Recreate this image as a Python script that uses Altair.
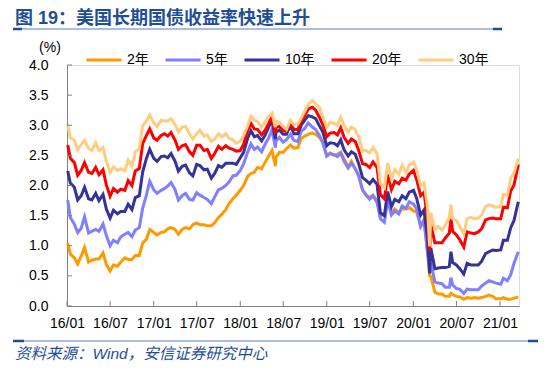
import altair as alt
import pandas as pd

# ---------------- data ----------------
series_names = ["2年", "5年", "10年", "20年", "30年"]
series_colors = ["#FF9900", "#7F7FFF", "#333399", "#FF0000", "#FFCC80"]

HALF = ["01-01", "01-15", "02-01", "02-15", "03-01", "03-15", "04-01", "04-15",
        "05-01", "05-15", "06-01", "06-15", "07-01", "07-15", "08-01", "08-15",
        "09-01", "09-15", "10-01", "10-15", "11-01", "11-15", "12-01", "12-15"]

dates_2016 = ["2016-" + d for d in HALF]
dates_2016[0] = "2016-01-04"
dates_2017 = ["2017-" + d for d in HALF]
dates_2018 = ["2018-" + d for d in HALF]
dates_2018.insert(10, "2018-05-29")
dates_2019 = ["2019-" + d for d in HALF]
dates_2020 = ["2020-01-02", "2020-01-15", "2020-02-01", "2020-02-15", "2020-03-01", "2020-03-10",
              "2020-03-15", "2020-04-01", "2020-04-15", "2020-05-01", "2020-05-15", "2020-06-01",
              "2020-06-08", "2020-06-15", "2020-07-01", "2020-07-15", "2020-08-01", "2020-08-15",
              "2020-09-01", "2020-09-15", "2020-10-01", "2020-10-15", "2020-11-01", "2020-11-15",
              "2020-12-01", "2020-12-15"]
dates_2021 = ["2021-01-04", "2021-01-15", "2021-02-01", "2021-02-15", "2021-03-01", "2021-03-19"]
dates = dates_2016 + dates_2017 + dates_2018 + dates_2019 + dates_2020 + dates_2021

y2 = ([1.05, 0.86, 0.80, 0.70, 0.83, 0.97, 0.73, 0.76, 0.78, 0.78, 0.88, 0.69,
       0.58, 0.68, 0.66, 0.73, 0.80, 0.77, 0.77, 0.84, 0.84, 1.04, 1.11, 1.27]
      + [1.22, 1.18, 1.22, 1.23, 1.28, 1.30, 1.27, 1.19, 1.27, 1.30, 1.28, 1.35,
         1.38, 1.35, 1.35, 1.33, 1.33, 1.38, 1.47, 1.52, 1.60, 1.70, 1.78, 1.84]
      + [1.92, 2.00, 2.15, 2.20, 2.22, 2.30, 2.28, 2.38, 2.49, 2.58, 2.32, 2.47, 2.55,
         2.55, 2.61, 2.67, 2.62, 2.63, 2.78, 2.82, 2.85, 2.87, 2.85, 2.80, 2.72]
      + [2.49, 2.54, 2.50, 2.52, 2.55, 2.44, 2.31, 2.40, 2.28, 2.18, 1.92, 1.85,
         1.80, 1.84, 1.75, 1.51, 1.50, 1.80, 1.56, 1.61, 1.55, 1.61, 1.61, 1.63]
      + [1.58, 1.56, 1.32, 1.43, 0.91, 0.50, 0.49, 0.23, 0.20, 0.20, 0.16, 0.16, 0.21,
         0.19, 0.16, 0.15, 0.11, 0.14, 0.13, 0.14, 0.13, 0.14, 0.16, 0.18, 0.16, 0.12]
      + [0.12, 0.14, 0.11, 0.11, 0.13, 0.15])

y5 = ([1.76, 1.47, 1.36, 1.22, 1.29, 1.48, 1.21, 1.24, 1.27, 1.24, 1.36, 1.17,
       1.00, 1.09, 1.05, 1.15, 1.19, 1.22, 1.15, 1.26, 1.30, 1.62, 1.84, 2.07]
      + [1.93, 1.87, 1.92, 1.95, 1.99, 2.05, 1.93, 1.76, 1.83, 1.87, 1.77, 1.76,
         1.88, 1.84, 1.80, 1.77, 1.70, 1.81, 1.93, 1.95, 2.00, 2.06, 2.16, 2.17]
      + [2.25, 2.36, 2.55, 2.69, 2.60, 2.64, 2.56, 2.68, 2.79, 2.93, 2.63, 2.74, 2.80,
         2.72, 2.76, 2.85, 2.75, 2.73, 2.90, 2.95, 3.04, 2.97, 2.93, 2.83, 2.71]
      + [2.49, 2.53, 2.51, 2.48, 2.54, 2.40, 2.29, 2.37, 2.28, 2.16, 1.93, 1.84,
         1.77, 1.83, 1.72, 1.45, 1.39, 1.75, 1.51, 1.58, 1.53, 1.66, 1.62, 1.73]
      + [1.69, 1.61, 1.32, 1.42, 0.89, 0.61, 0.72, 0.40, 0.38, 0.37, 0.31, 0.31, 0.47,
         0.35, 0.29, 0.28, 0.21, 0.28, 0.27, 0.27, 0.27, 0.33, 0.38, 0.42, 0.40, 0.38]
      + [0.36, 0.46, 0.42, 0.52, 0.71, 0.90])

y10 = ([2.24, 2.04, 1.97, 1.76, 1.83, 1.97, 1.78, 1.76, 1.87, 1.75, 1.85, 1.61,
        1.46, 1.59, 1.53, 1.57, 1.57, 1.69, 1.60, 1.80, 1.83, 2.22, 2.45, 2.60]
       + [2.45, 2.40, 2.48, 2.49, 2.46, 2.53, 2.40, 2.24, 2.32, 2.34, 2.21, 2.16,
          2.35, 2.33, 2.26, 2.27, 2.12, 2.20, 2.33, 2.30, 2.37, 2.37, 2.37, 2.35]
       + [2.46, 2.55, 2.78, 2.91, 2.81, 2.83, 2.74, 2.83, 2.97, 3.08, 2.77, 2.89, 2.92,
          2.85, 2.85, 3.00, 2.86, 2.86, 3.00, 3.09, 3.16, 3.14, 3.11, 2.99, 2.89]
       + [2.66, 2.71, 2.70, 2.66, 2.76, 2.59, 2.49, 2.56, 2.52, 2.37, 2.13, 2.09,
          2.03, 2.10, 2.02, 1.55, 1.50, 1.90, 1.65, 1.77, 1.73, 1.83, 1.78, 1.89]
       + [1.92, 1.79, 1.51, 1.59, 1.13, 0.54, 0.96, 0.62, 0.63, 0.64, 0.64, 0.66, 0.90,
          0.72, 0.68, 0.62, 0.53, 0.71, 0.68, 0.68, 0.68, 0.74, 0.87, 0.90, 0.93, 0.92]
       + [0.93, 1.09, 1.09, 1.30, 1.42, 1.73])

y20 = ([2.67, 2.45, 2.38, 2.17, 2.25, 2.38, 2.22, 2.20, 2.30, 2.18, 2.26, 2.01,
        1.82, 1.95, 1.89, 1.94, 1.92, 2.08, 2.00, 2.24, 2.28, 2.69, 2.83, 2.94]
       + [2.79, 2.75, 2.83, 2.86, 2.82, 2.88, 2.75, 2.60, 2.66, 2.68, 2.56, 2.50,
          2.67, 2.67, 2.58, 2.60, 2.45, 2.53, 2.65, 2.60, 2.66, 2.62, 2.60, 2.57]
       + [2.58, 2.68, 2.91, 3.03, 2.94, 2.93, 2.84, 2.91, 3.03, 3.15, 2.86, 2.96, 2.98,
          2.91, 2.90, 3.05, 2.93, 2.93, 3.07, 3.17, 3.27, 3.30, 3.25, 3.13, 3.01]
       + [2.81, 2.87, 2.88, 2.84, 2.96, 2.80, 2.70, 2.77, 2.73, 2.59, 2.36, 2.35,
          2.30, 2.39, 2.30, 1.85, 1.78, 2.18, 1.93, 2.07, 2.03, 2.12, 2.09, 2.19]
       + [2.25, 2.10, 1.83, 1.89, 1.46, 0.92, 1.36, 1.05, 1.05, 1.05, 1.13, 1.21, 1.45,
          1.24, 1.18, 1.10, 0.98, 1.23, 1.21, 1.20, 1.23, 1.28, 1.43, 1.45, 1.46, 1.45]
       + [1.45, 1.64, 1.63, 1.91, 2.01, 2.35])

y30 = ([3.01, 2.79, 2.75, 2.59, 2.68, 2.75, 2.61, 2.58, 2.71, 2.58, 2.63, 2.40,
        2.22, 2.31, 2.25, 2.28, 2.24, 2.42, 2.32, 2.56, 2.61, 2.99, 3.07, 3.17]
       + [3.04, 2.98, 3.08, 3.07, 3.07, 3.11, 3.01, 2.89, 2.97, 2.98, 2.86, 2.77,
          2.86, 2.92, 2.82, 2.84, 2.73, 2.77, 2.86, 2.81, 2.86, 2.78, 2.76, 2.70]
       + [2.74, 2.83, 2.99, 3.15, 3.09, 3.06, 2.97, 3.05, 3.14, 3.20, 2.97, 3.07, 3.05,
          2.98, 2.93, 3.08, 3.01, 3.02, 3.12, 3.24, 3.34, 3.41, 3.35, 3.30, 3.14]
       + [2.97, 3.05, 3.03, 3.00, 3.13, 3.00, 2.89, 2.97, 2.93, 2.81, 2.57, 2.58,
          2.54, 2.63, 2.53, 2.03, 1.96, 2.37, 2.11, 2.26, 2.19, 2.34, 2.21, 2.34]
       + [2.39, 2.26, 2.00, 2.04, 1.65, 0.99, 1.55, 1.27, 1.32, 1.26, 1.34, 1.47, 1.68,
          1.45, 1.42, 1.32, 1.20, 1.45, 1.47, 1.45, 1.46, 1.51, 1.65, 1.68, 1.66, 1.64]
       + [1.65, 1.85, 1.84, 2.12, 2.21, 2.45])

x_ticks = ["2016-01-01", "2016-07-01", "2017-01-01", "2017-07-01", "2018-01-01", "2018-07-01",
           "2019-01-01", "2019-07-01", "2020-01-01", "2020-07-01", "2021-01-01"]
y_ticks = [0.0, 0.5, 1.0, 1.5, 2.0, 2.5, 3.0, 3.5, 4.0]

title_text = "图 19：美国长期国债收益率快速上升"
source_text = "资料来源：Wind，安信证券研究中心"
unit_text = "(%)"

# ---------------- build table ----------------
rows = []
for name, vals in zip(series_names, [y2, y5, y10, y20, y30]):
    assert len(vals) == len(dates), (name, len(vals), len(dates))
    for d, v in zip(dates, vals):
        rows.append({"date": d, "value": v, "series": name})
df = pd.DataFrame(rows)

W, H = 452, 241
FONT = "Liberation Sans, Arial, Noto Sans CJK SC"
BLUE = "#1F4E96"


def dt(s):
    y, m, d = (int(p) for p in s.split("-"))
    return alt.DateTime(year=y, month=m, date=d)


xscale = alt.Scale(domain=[dt("2016-01-01"), dt("2021-03-22")])
yscale = alt.Scale(domain=[0, 4])

x_axis = alt.Axis(values=[dt(s) for s in x_ticks], format="%y/%m", title=None,
                  ticks=False, grid=False, labelFontSize=14, labelFont=FONT,
                  labelColor="#000000", labelPadding=10, domainColor="#808080",
                  labelFlush=False, labelOverlap=False)
y_axis = alt.Axis(values=y_ticks, format=".1f", title=None, ticks=False, grid=False,
                  labelFontSize=14, labelFont=FONT, labelColor="#000000",
                  labelPadding=19, domainColor="#808080", labelOverlap=False,
                  labelFlush=False)

lines = alt.Chart(df).mark_line(strokeWidth=3).encode(
    x=alt.X("date:T", scale=xscale, axis=x_axis),
    y=alt.Y("value:Q", scale=yscale, axis=y_axis),
    color=alt.Color("series:N", sort=series_names,
                    scale=alt.Scale(domain=series_names, range=series_colors),
                    legend=alt.Legend(orient="none", legendX=18, legendY=-24, direction="horizontal",
                                      title=None, symbolType="stroke", symbolSize=1225,
                                      symbolStrokeWidth=3, labelFontSize=14, labelFont=FONT,
                                      labelColor="#000000", columnPadding=10, labelOffset=4,
                                      padding=0)),
)

xt = alt.Chart(pd.DataFrame({"d": x_ticks})).mark_rule(color="#808080").encode(
    x=alt.X("d:T", scale=xscale, axis=x_axis), y=alt.value(H), y2=alt.value(H - 5))
yt = alt.Chart(pd.DataFrame({"v": y_ticks})).mark_rule(color="#808080").encode(
    y=alt.Y("v:Q", scale=yscale, axis=y_axis), x=alt.value(0), x2=alt.value(5))


def txt(text, x, y, **kw):
    return alt.Chart(pd.DataFrame({"t": [text]})).mark_text(**kw).encode(
        text="t:N", x=alt.value(x), y=alt.value(y))


def hline(x1, x2, y, color, width):
    return alt.Chart(pd.DataFrame({"a": [0]})).mark_rule(color=color, strokeWidth=width).encode(
        x=alt.value(x1), x2=alt.value(x2), y=alt.value(y))


title = txt(title_text, -52, -46.5, align="left", baseline="middle", fontSize=18,
            fontWeight="bold", font="Liberation Sans, Noto Sans CJK SC", color=BLUE)
unit = txt(unit_text, -17, -17, align="center", baseline="middle", fontSize=14,
           font=FONT, color="#000000")
source = txt(source_text, -52, 289, align="left", baseline="middle", fontSize=15.5,
             fontStyle="italic", font="Liberation Sans, Noto Sans CJK SC", color=BLUE)

decor = [
    hline(-54, 435, -36, "#5A7CC2", 1), hline(-54, -45, -36, BLUE, 2.5), hline(426, 435, -36, BLUE, 2.5),
    hline(-54, 471, 276, "#5A7CC2", 1), hline(-54, -43, 276, BLUE, 2.5), hline(461, 471, 276, BLUE, 2.5),
]

chart = alt.layer(lines, xt, yt, title, unit, source, *decor).properties(
    width=W, height=H,
    autosize=alt.AutoSizeParams(type="none"),
    padding={"left": 59, "top": 57, "right": 23, "bottom": 57},
).configure_view(stroke=None).configure(background="#FFFFFF")

chart.save("out.html", embed_options={"renderer": "svg", "actions": False})
